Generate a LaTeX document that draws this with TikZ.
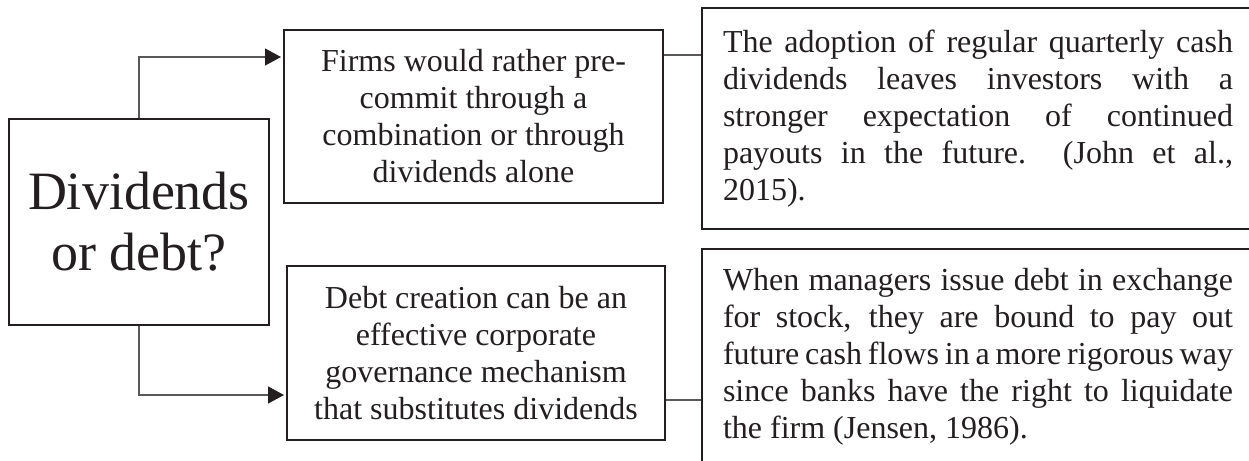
\documentclass[tikz,border=0pt]{standalone}
\usepackage{fontspec}
\setmainfont{Liberation Serif}
\usetikzlibrary{arrows.meta}
\definecolor{ink}{HTML}{231F20}
\definecolor{wire}{HTML}{595959}
\begin{document}
\begin{tikzpicture}[x=0.5pt,y=-0.5pt,
    box/.style={draw=ink,line width=1pt,rectangle,inner sep=0pt,text=ink},
    claim/.style={box,align=center,font=\fontsize{16}{18.5}\selectfont},
    source/.style={box,anchor=north west,text width=255pt,align=justify,
      inner xsep=10.5pt,inner ysep=9.5pt,font=\fontsize{16}{18.5}\selectfont},
    link/.style={draw=wire,line width=0.6pt},
    tip/.style={-{Triangle[length=8pt,width=8.5pt,color=ink]},shorten >=1pt}]
  \useasboundingbox (0,0) rectangle (1249,461);
  \clip (0,0) rectangle (1249,461);
  \draw
    (139,222) node[box,minimum width=130pt,minimum height=103pt,align=center,
      font=\fontsize{27}{30.5}\selectfont] (question){Dividends\\or debt?}
    (473.5,116.5) node[claim,minimum width=189.5pt,minimum height=86.5pt] (commit)
      {Firms would rather pre-\\commit through a\\combination or through\\dividends alone}
    (476,353) node[claim,minimum width=189pt,minimum height=87pt] (debt)
      {Debt creation can be an\\effective corporate\\governance mechanism\\that substitutes dividends}
    (701,7) node[source,minimum height=110.5pt] (john)
      {The adoption of regular quarterly cash\linebreak
       dividends leaves investors with a\linebreak
       stronger expectation of continued\linebreak
       payouts in the future.\ \ (John et al.,\linebreak
       2015).}
    (701,248) node[source] (jensen)
      {When managers issue debt in exchange\linebreak
       for stock, they are bound to pay out\linebreak
       future cash flows in a more rigorous way\linebreak
       since banks have the right to liquidate\linebreak
       the firm (Jensen, 1986).};
  \begin{scope}[link]
    \draw[tip] (question.north) |- ([yshift=-14pt]commit.north west);
    \draw[tip] (question.south) |- ([yshift=23pt]debt.south west);
    \draw ([yshift=-13pt]commit.north east) -- ([yshift=-13pt]commit.north east -| john.west);
    \draw ([yshift=20.5pt]debt.south east) -- ([yshift=20.5pt]debt.south east -| jensen.west);
  \end{scope}
\end{tikzpicture}
\end{document}
